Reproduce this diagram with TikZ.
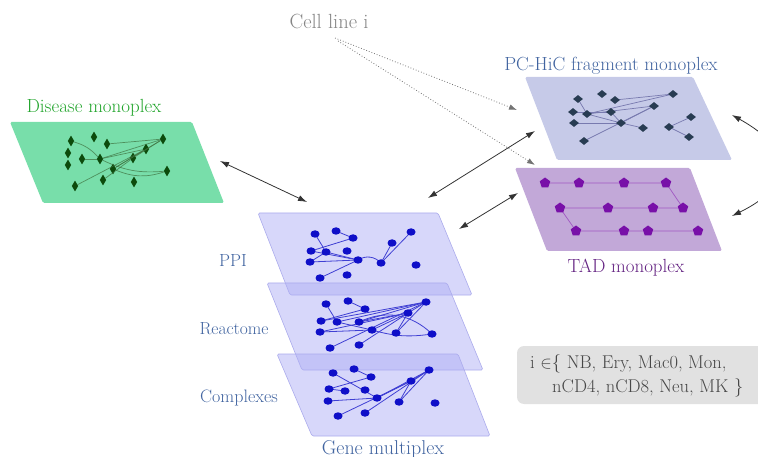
\documentclass[tikz,border=0pt]{standalone}
\usetikzlibrary{shapes.geometric,arrows.meta}

\definecolor{disfill}{RGB}{120,222,170}
\definecolor{distext}{RGB}{35,165,45}
\definecolor{disnode}{RGB}{12,75,12}
\definecolor{hicfill}{RGB}{198,202,232}
\definecolor{hicnode}{RGB}{40,60,82}
\definecolor{hicedge}{RGB}{120,122,175}
\definecolor{labblue}{RGB}{65,100,160}
\definecolor{tadfill}{RGB}{194,168,216}
\definecolor{tadnode}{RGB}{120,16,168}
\definecolor{tadtext}{RGB}{100,35,130}
\definecolor{genefill}{RGB}{175,175,245}
\definecolor{genenode}{RGB}{15,15,200}
\definecolor{boxgrey}{RGB}{225,225,225}

\begin{document}
\begin{tikzpicture}[x=1pt,y=-1pt,
    lbl/.style={inner sep=0pt,font=\fontsize{19}{21}\selectfont},
    lyr/.style={inner sep=0pt,font=\fontsize{17.5}{19}\selectfont,text=labblue},
    dnode/.style={diamond,fill=disnode,inner sep=0pt,minimum width=6.5pt,minimum height=11pt},
    hnode/.style={diamond,fill=hicnode,inner sep=0pt,minimum width=10pt,minimum height=8pt},
    tnode/.style={regular polygon,regular polygon sides=5,fill=tadnode,inner sep=0pt,minimum size=11pt},
    gnode/.style={ellipse,fill=genenode,inner sep=0pt,minimum width=9pt,minimum height=7.5pt},
    gplane/.style={fill=genefill,fill opacity=.5,draw=genenode!35,line width=.6pt,rounded corners=1.5pt},
    dedge/.style={disnode!80,opacity=.7,line width=.7pt},
    gedge/.style={genenode!80,line width=.8pt},
    link/.style={<->,>={Latex[length=9pt,width=6pt]},draw=black!80,line width=.8pt},
    cue/.style={->,>={Latex[length=8pt,width=5.5pt]},dotted,draw=black!55,line width=.8pt}]
  \useasboundingbox (0,0) rectangle (758,457);

  %% planes
  \fill[disfill,rounded corners=1.5pt] (10,122) -- (192,122) -- (224,203) -- (43,203) -- cycle;
  \fill[hicfill,rounded corners=1.5pt] (525,77) -- (693,77) -- (732,160) -- (557,160) -- cycle;
  \fill[tadfill,rounded corners=1.5pt] (515,168) -- (690,168) -- (722,251) -- (547,251) -- cycle;

  %% labels
  \node[lbl,text=black!48,font=\fontsize{20.5}{22}\selectfont] (cell) at (329,22) {Cell line i};
  \node[lbl,text=distext] (ldis) at (94,108) {Disease monoplex};
  \node[lbl,text=labblue] (lhic) at (611,66) {PC-HiC fragment monoplex};
  \node[lbl,text=tadtext] (ltad) at (626,268) {TAD monoplex};
  \node[lyr] (lppi) at (233,261) {PPI};
  \node[lyr] (lrea) at (234,329) {Reactome};
  \node[lyr,font=\fontsize{18}{20}\selectfont] (lcom) at (239,398) {Complexes};
  \node[lbl,text=labblue,font=\fontsize{20}{22}\selectfont] (lgen) at (383,449) {Gene multiplex};

  %% disease monoplex
  \foreach \n/\x/\y in {1/71/141,2/94/137,3/107/144,4/68/153,5/68/165,6/82/159,
    7/100/159,8/113/169,9/133/158,10/146/149,11/163/139,12/167/171,13/75/186,
    14/103/180,15/134/182}
    \node[dnode] (d\n) at (\x,\y) {};
  \foreach \from/\to in {d3/d11,d7/d11,d7/d10,d8/d11,d8/d10,d13/d10,d14/d9,
    d6/d7,d9/d11}
    \draw[dedge] (\from) -- (\to);
  \draw[dedge] (d7) to[bend right=15] (d12);
  \draw[dedge] (d8) to[bend right=20] (d12);
  \draw[dedge] (d1) to[bend left=15] (d7);

  %% pc-hic monoplex
  \foreach \n/\x/\y in {1/578/99,2/602/94,3/615/100,4/673/94,5/573/112,6/587/114,
    7/611/112,8/654/106,9/574/123,10/621/123,11/643/128,12/669/127,13/691/117,
    14/689/137,15/584/141}
    \coordinate (hc\n) at (\x,\y);
  \foreach \from/\to in {hc1/hc6,hc3/hc4,hc6/hc4,hc6/hc8,hc9/hc10,hc10/hc8,
    hc10/hc7,hc10/hc11,hc10/hc6,hc15/hc8,hc12/hc13,hc12/hc14,hc5/hc7}
    \draw[hicedge,line width=.7pt] (\from) -- (\to);
  \foreach \n in {1,...,15}
    \node[hnode] (h\n) at (hc\n) {};

  %% tad monoplex
  \foreach \n/\x/\y in {1/545/183,2/579/183,3/624/183,4/666/183,
    5/560/208,6/608/208,7/653/208,8/683/208,
    9/576/231,10/624/231,11/648/231,12/698/231}
    \coordinate (tc\n) at (\x,\y);
  \draw[tadnode!70,line width=.7pt] (tc1) -- (tc2) -- (tc3) -- (tc4) -- (tc8) -- (tc7)
    -- (tc6) -- (tc5) -- (tc9) -- (tc10) -- (tc11) -- (tc12);
  \foreach \n in {1,...,12}
    \node[tnode] (t\n) at (tc\n) {};

  %% gene multiplex: PPI
  \path[gplane] (258,213) -- (438,213) -- (472,295) -- (290,295) -- cycle;
  \foreach \n/\x/\y in {1/315/234,2/336/231,3/353/238,4/311/251,5/326/252,
    6/347/251,7/310/262,8/358/260,9/381/263,10/392/243,11/411/232,12/416/265,
    13/320/278,14/347/275}
    \coordinate (pc\n) at (\x,\y);
  \foreach \from/\to in {pc1/pc5,pc2/pc3,pc3/pc4,pc4/pc8,pc5/pc7,pc7/pc8,
    pc5/pc8,pc9/pc10,pc9/pc11,pc13/pc8}
    \draw[gedge] (\from) -- (\to);
  \draw[gedge] (pc8) to[bend left=40] (pc9);
  \foreach \n in {1,...,14}
    \node[gnode] (p\n) at (pc\n) {};

  %% gene multiplex: Reactome
  \path[gplane] (267,283) -- (447,283) -- (483,370) -- (302,370) -- cycle;
  \foreach \n/\x/\y in {1/326/304,2/348/301,3/365/309,4/426/302,5/408/313,
    6/321/321,7/337/322,8/359/322,9/320/332,10/372/330,11/396/333,12/432/334,
    13/330/348,14/359/345}
    \coordinate (rc\n) at (\x,\y);
  \foreach \from/\to in {rc1/rc7,rc2/rc3,rc3/rc6,rc6/rc4,rc7/rc4,rc8/rc4,rc8/rc5,
    rc9/rc10,rc9/rc5,rc10/rc5,rc11/rc4,rc11/rc5,rc13/rc4,rc14/rc5,rc5/rc4,rc7/rc10}
    \draw[gedge] (\from) -- (\to);
  \draw[gedge] (rc10) to[bend right=12] (rc12);
  \draw[gedge] (rc8) to[bend left=35] (rc12);
  \foreach \n in {1,...,14}
    \node[gnode] (r\n) at (rc\n) {};

  %% gene multiplex: Complexes
  \path[gplane] (277,354) -- (458,354) -- (490,436) -- (312,436) -- cycle;
  \foreach \n/\x/\y in {1/333/373,2/354/369,3/371/377,4/429/370,5/411/381,
    6/329/389,7/345/391,8/365/390,9/328/401,10/377/398,11/399/402,12/435/403,
    13/338/416,14/365/413}
    \coordinate (cc\n) at (\x,\y);
  \foreach \from/\to in {cc2/cc3,cc1/cc10,cc6/cc3,cc6/cc7,cc9/cc10,cc10/cc4,cc10/cc5,
    cc13/cc5,cc14/cc4,cc11/cc4,cc11/cc5,cc5/cc4}
    \draw[gedge] (\from) -- (\to);
  \foreach \n in {1,...,14}
    \node[gnode] (c\n) at (cc\n) {};

  %% connectors
  \coordinate (disR) at (220,161);
  \coordinate (ppiL) at (307,202);
  \coordinate (ppiT) at (428,198);
  \coordinate (hicL) at (535,131);
  \coordinate (ppiR) at (459,229);
  \coordinate (tadL) at (518,193);
  \coordinate (hicR) at (732,115);
  \coordinate (tadR) at (732,216);
  \coordinate (cellA) at (335,38);
  \coordinate (cellB) at (338,41);
  \coordinate (hicW) at (517,110);
  \coordinate (tadN) at (535,165);
  \draw[link] (disR) -- (ppiL);
  \draw[link] (ppiT) -- (hicL);
  \draw[link] (ppiR) -- (tadL);
  \draw[link] (hicR) .. controls (795,150) and (795,185) .. (tadR);
  \draw[cue] (cellA) -- (hicW);
  \draw[cue] (cellB) -- (tadN);

  %% cell lines
  \fill[boxgrey,rounded corners=7pt] (517,346) rectangle (790,404);
  \node[lbl,anchor=west,text=black!72,font=\fontsize{18.5}{20}\selectfont] (lines1) at (530,364) {i $\in$\{ NB, Ery, Mac0, Mon,};
  \node[lbl,anchor=west,text=black!72,font=\fontsize{18.5}{20}\selectfont] (lines2) at (552,388) {nCD4, nCD8, Neu, MK \}};
\end{tikzpicture}
\end{document}
